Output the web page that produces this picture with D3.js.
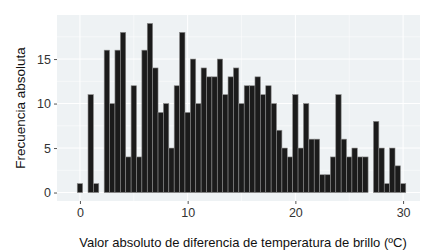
<!DOCTYPE html>
<html>
<head>
<meta charset="utf-8">
<script src="https://cdn.jsdelivr.net/npm/d3@7"></script>
<style>
  body { margin: 0; background: #fff; }
  text { font-family: "Liberation Sans", Arial, sans-serif; }
</style>
</head>
<body>
<script>
// histogram, bins of 0.5 ºC centred on multiples of 0.5
const binWidth = 0.5;
const counts = [
  1, 0, 11, 1, 0, 16, 10, 16, 18, 4,
  12, 4, 16, 19, 14, 9, 10, 5, 12, 18,
  9, 15, 10, 14, 13, 13, 15, 11, 13, 14,
  10, 12, 12, 13, 11, 12, 10, 7, 5, 4,
  11, 5, 10, 6, 6, 2, 2, 4, 11, 6,
  4, 5, 4, 4, 0, 8, 5, 1, 5, 3,
  1
];
const xTicks = [0, 10, 20, 30];
const yTicks = [0, 5, 10, 15];
const xTitle = 'Valor absoluto de diferencia de temperatura de brillo (ºC)';
const yTitle = 'Frecuencia absoluta';

const width = 432, height = 250;
const panel = { left: 57, right: 420, top: 15, bottom: 201 };

const bins = counts.map((c, i) => ({ mid: i * binWidth, count: c }));

const x = d3.scaleLinear().domain([-2.13, 31.57]).range([panel.left, panel.right]);
const y = d3.scaleLinear().domain([-0.95, 19.95]).range([panel.bottom, panel.top]);

const svg = d3.select('body').append('svg')
  .attr('width', width)
  .attr('height', height);

// panel background
svg.append('rect')
  .attr('x', panel.left)
  .attr('y', panel.top)
  .attr('width', panel.right - panel.left)
  .attr('height', panel.bottom - panel.top)
  .attr('fill', '#eef2f4');

// grid: minor then major
const grid = svg.append('g');
[5, 15, 25].forEach(v => {
  grid.append('line')
    .attr('x1', x(v)).attr('x2', x(v))
    .attr('y1', panel.top).attr('y2', panel.bottom)
    .attr('stroke', '#fff').attr('stroke-width', 0.5);
});
[2.5, 7.5, 12.5, 17.5].forEach(v => {
  grid.append('line')
    .attr('x1', panel.left).attr('x2', panel.right)
    .attr('y1', y(v)).attr('y2', y(v))
    .attr('stroke', '#fff').attr('stroke-width', 0.5);
});
xTicks.forEach(v => {
  grid.append('line')
    .attr('x1', x(v)).attr('x2', x(v))
    .attr('y1', panel.top).attr('y2', panel.bottom)
    .attr('stroke', '#fff').attr('stroke-width', 1);
});
yTicks.forEach(v => {
  grid.append('line')
    .attr('x1', panel.left).attr('x2', panel.right)
    .attr('y1', y(v)).attr('y2', y(v))
    .attr('stroke', '#fff').attr('stroke-width', 1);
});

// bars
svg.append('g')
  .selectAll('rect')
  .data(bins.filter(d => d.count > 0))
  .join('rect')
  .attr('x', d => x(d.mid - binWidth / 2))
  .attr('y', d => y(d.count))
  .attr('width', d => x(d.mid + binWidth / 2) - x(d.mid - binWidth / 2))
  .attr('height', d => y(0) - y(d.count))
  .attr('fill', '#1b1b1b')
  .attr('stroke', '#8a8a8a')
  .attr('stroke-width', 0.6);

// axes
const xAxis = svg.append('g')
  .attr('transform', `translate(0,${panel.bottom})`)
  .call(d3.axisBottom(x).tickValues(xTicks).tickSize(3).tickPadding(4));
const yAxis = svg.append('g')
  .attr('transform', `translate(${panel.left},0)`)
  .call(d3.axisLeft(y).tickValues(yTicks).tickSize(3).tickPadding(3));

[xAxis, yAxis].forEach(a => {
  a.select('.domain').remove();
  a.selectAll('.tick line').attr('stroke', '#555');
  a.selectAll('.tick text')
    .attr('fill', '#333')
    .style('font-size', '12.5px')
    .style('font-family', '"Liberation Sans", Arial, sans-serif');
});

// titles
svg.append('text')
  .attr('x', 243)
  .attr('y', 246.5)
  .attr('text-anchor', 'middle')
  .attr('fill', '#111')
  .style('font-size', '13px')
  .text(xTitle);

svg.append('text')
  .attr('transform', `translate(25,108) rotate(-90)`)
  .attr('text-anchor', 'middle')
  .attr('fill', '#111')
  .style('font-size', '13.5px')
  .text(yTitle);
</script>
</body>
</html>
